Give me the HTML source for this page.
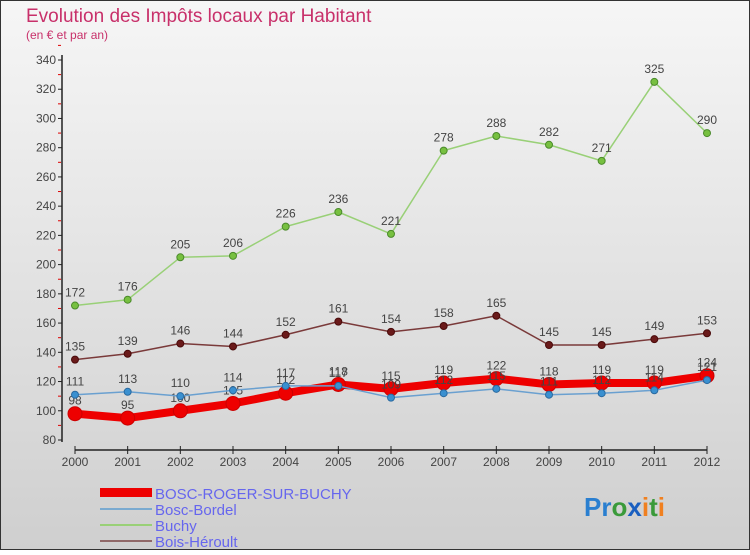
<!DOCTYPE html>
<html><head><meta charset="utf-8"><style>
body{margin:0;width:750px;height:550px;overflow:hidden;font-family:"Liberation Sans",sans-serif}
svg text{font-family:"Liberation Sans",sans-serif}
</style></head><body>
<svg id="c" width="750" height="550">
<defs><linearGradient id="bg" x1="0" y1="0" x2="0" y2="1"><stop offset="0" stop-color="#f6f6f6"/><stop offset="1" stop-color="#cfcfcf"/></linearGradient></defs>
<rect x="0.5" y="0.5" width="749" height="549" fill="url(#bg)" stroke="#333"/>
<text x="26" y="22" font-size="19" fill="#c8306a">Evolution des Impôts locaux par Habitant</text>
<text x="26" y="39" font-size="12" fill="#c8306a">(en € et par an)</text>
<g id="axes"></g><g id="series"></g>
<g>
<rect x="100" y="488" width="52" height="9" fill="#ee0000"/>
<text x="155" y="499" font-size="15" fill="#6666ee">BOSC-ROGER-SUR-BUCHY</text>
<line x1="100" y1="509" x2="152" y2="509" stroke="#7aaad0" stroke-width="2"/>
<text x="155" y="515" font-size="15" fill="#6666ee">Bosc-Bordel</text>
<line x1="100" y1="525" x2="152" y2="525" stroke="#99d077" stroke-width="2"/>
<text x="155" y="531" font-size="15" fill="#6666ee">Buchy</text>
<line x1="100" y1="541" x2="152" y2="541" stroke="#906868" stroke-width="2"/>
<text x="155" y="547" font-size="15" fill="#6666ee">Bois-Héroult</text>
</g>
<text x="584" y="516" font-size="26" font-weight="bold"><tspan fill="#2a7fd0">Pr</tspan><tspan fill="#3a9a3a">o</tspan><tspan fill="#1a5fc0">x</tspan><tspan fill="#f08020">i</tspan><tspan fill="#3a9a3a">t</tspan><tspan fill="#f08020">i</tspan></text>
</svg>
<script>
const years=[2000,2001,2002,2003,2004,2005,2006,2007,2008,2009,2010,2011,2012];
const boscRoger=[98,95,100,105,112,118,115,119,122,118,119,119,124];
const boscBordel=[111,113,110,114,117,117,109,112,115,111,112,114,121];
const buchy=[172,176,205,206,226,236,221,278,288,282,271,325,290];
const boisHeroult=[135,139,146,144,152,161,154,158,165,145,145,149,153];
const yTicks=[80,100,120,140,160,180,200,220,240,260,280,300,320,340];
const NS="http://www.w3.org/2000/svg";
const X=i=>75+i*(707-75)/(years.length-1);
const Y=v=>440-(v-80)*380/260;
function mk(t,a,p){const e=document.createElementNS(NS,t);for(const k in a)e.setAttribute(k,a[k]);p.appendChild(e);return e;}
const ax=document.getElementById('axes');
mk('line',{x1:62,y1:55,x2:62,y2:442,stroke:'#222','stroke-width':1.5},ax);
mk('line',{x1:75,y1:450,x2:707,y2:450,stroke:'#222','stroke-width':1.5},ax);
yTicks.forEach(v=>{
 mk('line',{x1:58,y1:Y(v),x2:62,y2:Y(v),stroke:'#222'},ax);
 mk('line',{x1:58,y1:Y(v+10),x2:61,y2:Y(v+10),stroke:'#d00'},ax);
 const t=mk('text',{x:56,y:Y(v)+4,'font-size':12,fill:'#444','text-anchor':'end'},ax);
 
 
 t.textContent=v;
});
years.forEach((yr,i)=>{
 mk('line',{x1:X(i),y1:446,x2:X(i),y2:454,stroke:'#222'},ax);
 const t=mk('text',{x:X(i),y:466,'font-size':12,fill:'#444','text-anchor':'middle'},ax);
 
 
 t.textContent=yr;
});
const sg=document.getElementById('series');
function series(data,name,color,dot,w,r,dotStroke){
 const g=mk('g',{},sg);
 
 
 mk('polyline',{points:data.map((v,i)=>X(i)+','+Y(v)).join(' '),fill:'none',stroke:color,'stroke-width':w,'stroke-linejoin':'round'},g);
 data.forEach((v,i)=>{
  const c=mk('circle',{cx:X(i),cy:Y(v),r:r,fill:dot,stroke:dotStroke,'stroke-width':1},g);
  
  
  const t=mk('text',{x:X(i),y:Y(v)-9,'font-size':12,fill:'#444','text-anchor':'middle'},g);
  
  
  t.textContent=v;
 });
}
series(buchy,'buchy','#99d077','#77c040',1.5,3.5,'#4a8a2a');
series(boisHeroult,'bois-heroult','#7a3a3a','#6a1a1a',1.5,3.5,'#4a0a0a');
series(boscRoger,'bosc-roger','#ee0000','#ee0000',8,7,'#cc0000');
series(boscBordel,'bosc-bordel','#6aa0d0','#3a90d0',1.5,3.5,'#2a6aa0');
</script>
</body></html>
